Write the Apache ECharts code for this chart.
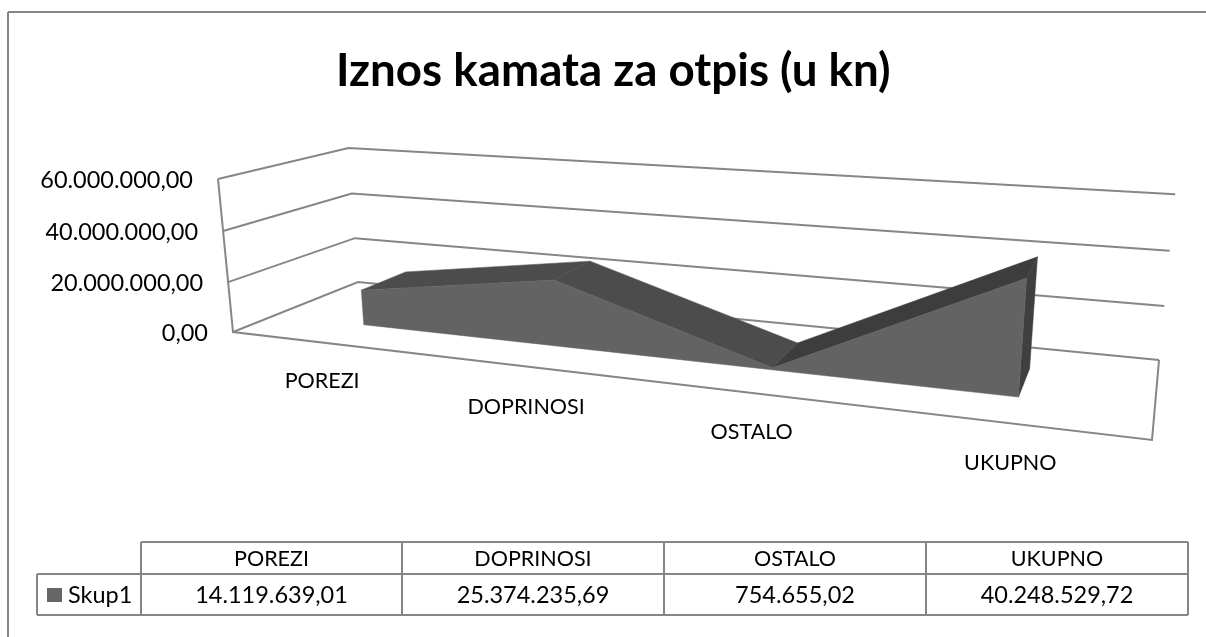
<!DOCTYPE html>
<html>
<head>
<meta charset="utf-8">
<style>
  html, body { margin: 0; padding: 0; background: #fff; }
  #main { width: 1206px; height: 637px; }
</style>
<script src="https://cdn.jsdelivr.net/npm/echarts@6/dist/echarts.min.js"></script>
</head>
<body>
<div id="main"></div>
<script>
var categories = ['POREZI', 'DOPRINOSI', 'OSTALO', 'UKUPNO'];
var values = [14119639.01, 25374235.69, 754655.02, 40248529.72];
var yTicks = [0, 20000000, 40000000, 60000000];
var seriesName = 'Skup1';
var titleText = 'Iznos kamata za otpis (u kn)';

var FONT = 'Lato, "Open Sans", sans-serif';
var LINE = '#868686';
var NUM_SIZE = 23.5;
var CAP_SIZE = 21.5;

// kn format, 14.119.639,01
function fmt(v) {
    var p = v.toFixed(2).split('.');
    return p[0].replace(/\B(?=(\d{3})+$)/g, '.') + ',' + p[1];
}

// hidden grid, its scale gives the 0..1 position on the floor and the wall
var G = { left: 100, top: 100, width: 800, height: 300 };

// perspective of the excel box, fitted on the corners of the walls
var O = [233, 332], FR = [1152, 440], TL = [218, 179], BL = [358, 282];
var wx = 0.7706, wy = 0.9688, wz = 1.1493;
function project(X, Y, Z) {
    var w = 1 + (wx - 1) * X + (wy - 1) * Y + (wz - 1) * Z;
    return [0, 1].map(function (k) {
        return (O[k] + X * (FR[k] * wx - O[k]) + Y * (TL[k] * wy - O[k]) + Z * (BL[k] * wz - O[k])) / w;
    });
}
function unit(api, i, v) {
    var c = api.coord([i, v]);
    return [(c[0] - G.left) / G.width, (G.top + G.height - c[1]) / G.height];
}

var LINE_STYLE = { stroke: LINE, lineWidth: 2, fill: null };

function renderWalls(params, api) {
    var v = api.value(1);
    var Y = unit(api, 0, v)[1];
    var kids = [{
        type: 'polyline',
        shape: { points: [project(0, Y, 0), project(0, Y, 1), project(1, Y, 1)] },
        style: LINE_STYLE
    }];
    if (v === 0) {
        kids.push({
            type: 'polyline',
            shape: { points: [project(0, 1, 0), project(0, 0, 0), project(1, 0, 0), project(1, 0, 1)] },
            style: LINE_STYLE
        });
    }
    var p = project(0, Y, 0);
    kids.push({
        type: 'text',
        style: { text: fmt(v), x: p[0] - 25, y: p[1] + 1, textAlign: 'right', textVerticalAlign: 'middle',
            font: NUM_SIZE + 'px ' + FONT, fill: '#000' }
    });
    return { type: 'group', children: kids };
}

var ZF = 0.31, ZB = 0.69;
var FRONT = '#636363', SIDE = '#3f3f3f';
var TOPS = ['#4c4c4c', '#4c4c4c', '#3d3d3d'];

function poly(points, color) {
    return { type: 'polygon', shape: { points: points }, style: { fill: color, stroke: color, lineWidth: 0.5 } };
}

function renderArea(params, api) {
    var i = params.dataIndex;
    var a = unit(api, i, values[i]);
    var kids = [];
    if (i < values.length - 1) {
        var b = unit(api, i + 1, values[i + 1]);
        kids.push(poly([project(a[0], a[1], ZF), project(a[0], a[1], ZB), project(b[0], b[1], ZB), project(b[0], b[1], ZF)], TOPS[i]));
    } else {
        kids.push(poly([project(a[0], 0, ZF), project(a[0], a[1], ZF), project(a[0], a[1], ZB), project(a[0], 0, ZB)], SIDE));
        // whole front face in one piece, on top of the rest
        var front = values.map(function (v, k) {
            var u = unit(api, k, v);
            return project(u[0], u[1], ZF);
        });
        front.unshift(project(unit(api, 0, 0)[0], 0, ZF));
        front.push(project(a[0], 0, ZF));
        kids.push(poly(front, FRONT));
    }
    return { type: 'group', children: kids };
}

// excel does not keep the labels at even distance from the floor edge
var catNudge = [[-2, 38], [2.5, 41], [2, 39], [2, 40]];

function renderCatLabels(params, api) {
    var i = params.dataIndex;
    var X = unit(api, i, 0)[0];
    var p = project(X, 0, 0);
    return {
        type: 'text',
        style: { text: categories[i], x: p[0] + catNudge[i][0], y: p[1] + catNudge[i][1], textAlign: 'center', textVerticalAlign: 'middle',
            font: CAP_SIZE + 'px ' + FONT, fill: '#000' }
    };
}

// data table under the chart
var colX = [141, 402, 664, 926, 1188];
var rowY = [542, 574, 615];
var tableLeft = 37;
function tableGraphics() {
    var out = [];
    function line(x1, y1, x2, y2) {
        out.push({ type: 'line', shape: { x1: x1, y1: y1, x2: x2, y2: y2 }, style: { stroke: LINE, lineWidth: 2 } });
    }
    function txt(s, x, y, size) {
        out.push({ type: 'text', style: { text: s, x: x, y: y, textAlign: 'center', textVerticalAlign: 'middle',
            font: size + 'px ' + FONT, fill: '#000' } });
    }
    // chart frame
    line(8, 12, 1206, 12);
    line(8, 12, 8, 637);
    rowY.forEach(function (y, r) { line(r === 0 ? colX[0] : tableLeft, y, colX[4], y); });
    colX.forEach(function (x) { line(x, rowY[0], x, rowY[2]); });
    line(tableLeft, rowY[1], tableLeft, rowY[2]);
    categories.forEach(function (c, i) {
        var cx = (colX[i] + colX[i + 1]) / 2;
        txt(c, cx, (rowY[0] + rowY[1]) / 2 + 1, CAP_SIZE);
        txt(fmt(values[i]), cx, (rowY[1] + rowY[2]) / 2 + 1, NUM_SIZE);
    });
    return out;
}

var myChart = echarts.init(document.getElementById('main'));
myChart.setOption({
    animation: false,
    backgroundColor: '#fff',
    title: {
        text: titleText, left: 331, top: 43,
        textStyle: { fontFamily: FONT, fontSize: 45.7, fontWeight: 'bold', color: '#000' }
    },
    legend: {
        data: [seriesName], left: 47, top: 583, itemWidth: 15, itemHeight: 14, itemGap: 0,
        icon: 'rect', padding: 0,
        textStyle: { fontFamily: FONT, fontSize: NUM_SIZE, color: '#000', padding: [0, 0, 0, 1] }
    },
    grid: G,
    xAxis: { type: 'category', data: categories, show: false },
    yAxis: { type: 'value', min: 0, max: 60000000, interval: 20000000, show: false },
    graphic: tableGraphics(),
    series: [
        { type: 'custom', name: 'walls', renderItem: renderWalls, silent: true, z: 1,
          data: yTicks.map(function (t) { return [0, t]; }) },
        { type: 'custom', name: 'labels', renderItem: renderCatLabels, silent: true, z: 1,
          data: categories.map(function (c, i) { return [i, 0]; }) },
        { type: 'custom', name: seriesName, renderItem: renderArea, z: 2,
          itemStyle: { color: '#666666' },
          data: values.map(function (v, i) { return [i, v]; }) }
    ]
});
</script>
</body>
</html>
